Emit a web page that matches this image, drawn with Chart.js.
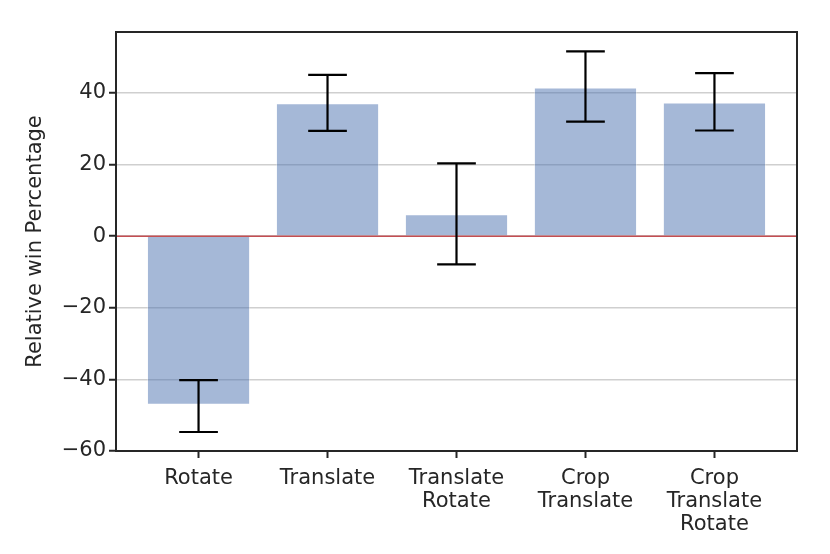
<!DOCTYPE html>
<html>
<head>
<meta charset="utf-8">
<script src="https://cdn.jsdelivr.net/npm/chart.js@4.4.1/dist/chart.umd.min.js"></script>
<style>
  html, body { margin: 0; padding: 0; background: #fff; }
  #wrap { width: 830px; height: 554px; }
</style>
</head>
<body>
<div id="wrap"><canvas id="chart"></canvas></div>
<script>
  // data
  const categories = [["Rotate"], ["Translate"], ["Translate", "Rotate"], ["Crop", "Translate"], ["Crop", "Translate", "Rotate"]];
  const means = [-47.1, 37.1, 6.1, 41.5, 37.3];
  const errLow = [-54.7, 29.4, -7.9, 32.0, 29.5];
  const errHigh = [-40.2, 45.0, 20.3, 51.6, 45.5];
  const yTicks = [-60, -40, -20, 0, 20, 40];

  const INK = "#262626";
  const FONT = "'DejaVu Sans', sans-serif";

  // error bars, zero line and the box around the axes
  const extras = {
    id: "extras",
    afterDatasetsDraw(chart) {
      const { ctx, chartArea: a, scales: { x, y } } = chart;
      ctx.save();

      ctx.strokeStyle = "#c44e52";
      ctx.lineWidth = 1.5;
      ctx.beginPath();
      ctx.moveTo(a.left, y.getPixelForValue(0));
      ctx.lineTo(a.right, y.getPixelForValue(0));
      ctx.stroke();

      ctx.strokeStyle = "#000";
      ctx.lineWidth = 2.2;
      const half = (x.getPixelForValue(1) - x.getPixelForValue(0)) * 0.15;
      means.forEach((m, i) => {
        const cx = x.getPixelForValue(i);
        const lo = y.getPixelForValue(errLow[i]);
        const hi = y.getPixelForValue(errHigh[i]);
        ctx.beginPath();
        ctx.moveTo(cx, lo); ctx.lineTo(cx, hi);
        ctx.moveTo(cx - half, lo); ctx.lineTo(cx + half, lo);
        ctx.moveTo(cx - half, hi); ctx.lineTo(cx + half, hi);
        ctx.stroke();
      });

      ctx.strokeStyle = INK;
      ctx.lineWidth = 2;
      ctx.strokeRect(a.left, a.top, a.right - a.left, a.bottom - a.top);
      ctx.restore();
    }
  };

  new Chart(document.getElementById("chart"), {
    type: "bar",
    data: {
      datasets: [{
        data: means.map((v, i) => ({ x: i, y: v })),
        backgroundColor: "rgba(76,114,176,0.5)",
        borderColor: "rgba(255,255,255,0.3)",
        borderWidth: 1,
        barPercentage: 0.8,
        categoryPercentage: 1.0
      }]
    },
    options: {
      responsive: true,
      maintainAspectRatio: false,
      animation: false,
      layout: { padding: { top: 32, right: 33, left: 0, bottom: 0 } },
      plugins: { legend: { display: false }, tooltip: { enabled: false } },
      scales: {
        x: {
          type: "linear",
          offset: false,
          min: -0.64,
          max: 4.64,
          afterBuildTicks: (s) => { s.ticks = categories.map((c, i) => ({ value: i })); },
          afterFit: (s) => { s.height = 103; },
          ticks: {
            color: INK,
            font: { family: FONT, size: 21, lineHeight: 1.1 },
            padding: 9,
            maxRotation: 0,
            autoSkip: false,
            callback: (v) => categories[v]
          },
          grid: { offset: false, drawOnChartArea: false, tickColor: INK, tickLength: 7, tickWidth: 2 },
          border: { display: false }
        },
        y: {
          min: -60,
          max: 57,
          afterBuildTicks: (s) => { s.ticks = yTicks.map(v => ({ value: v })); },
          afterFit: (s) => { s.width = 116; },
          ticks: {
            color: INK,
            font: { family: FONT, size: 21 },
            padding: 3,
            callback: (v) => String(v).replace("-", "\u2212")
          },
          grid: { color: "#cfcfcf", lineWidth: 1.5, tickColor: INK, tickLength: 7, tickWidth: 2 },
          border: { display: false },
          title: {
            display: true,
            text: "Relative win Percentage",
            color: INK,
            font: { family: FONT, size: 21 },
            padding: { top: 23, bottom: 0 }
          }
        }
      }
    },
    plugins: [extras]
  });
</script>
</body>
</html>
